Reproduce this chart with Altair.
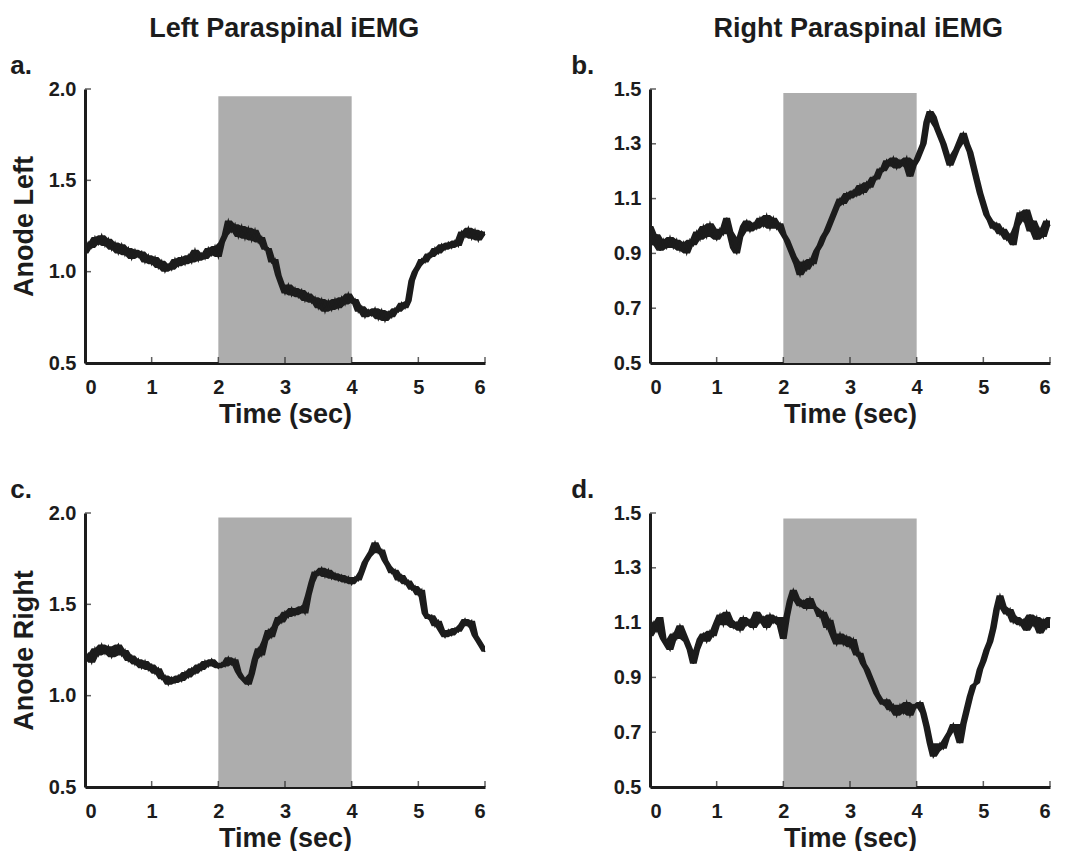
import altair as alt
import pandas as pd

# sampling interval of the traces (seconds)
TIME_STEP = 0.05

# Panel a: Anode Left / Left paraspinal iEMG (t = 0 .. 6 s)
A_VALUES = [
    1.10, 1.16, 1.13, 1.19, 1.15, 1.20, 1.14, 1.18, 1.12, 1.16,
    1.10, 1.15, 1.09, 1.13, 1.07, 1.12, 1.08, 1.11, 1.05, 1.09,
    1.04, 1.08, 1.02, 1.06, 1.00, 1.04, 1.01, 1.07, 1.03, 1.08,
    1.04, 1.09, 1.05, 1.12, 1.06, 1.10, 1.07, 1.13, 1.09, 1.14,
    1.08, 1.16, 1.20, 1.28, 1.22, 1.26, 1.19, 1.25, 1.18, 1.24,
    1.17, 1.23, 1.16, 1.19, 1.12, 1.13, 1.05, 1.07, 0.98, 0.93,
    0.88, 0.93, 0.87, 0.91, 0.86, 0.90, 0.84, 0.88, 0.83, 0.86,
    0.80, 0.85, 0.78, 0.84, 0.79, 0.85, 0.80, 0.86, 0.82, 0.88,
    0.83, 0.85, 0.78, 0.81, 0.75, 0.79, 0.76, 0.80, 0.74, 0.79,
    0.73, 0.78, 0.75, 0.80, 0.78, 0.83, 0.80, 0.84, 0.95, 1.00,
    1.03, 1.07, 1.05, 1.10, 1.08, 1.13, 1.10, 1.15, 1.12, 1.16,
    1.13, 1.17, 1.14, 1.22, 1.19, 1.24, 1.18, 1.23, 1.17, 1.22,
    1.20,
]

# Panel b: Anode Left / Right paraspinal iEMG
B_VALUES = [
    1.00, 0.93, 0.97, 0.91, 0.95, 0.92, 0.96, 0.92, 0.95, 0.91,
    0.94, 0.90, 0.95, 0.93, 0.98, 0.95, 1.00, 0.96, 1.01, 0.97,
    0.95, 0.99, 0.97, 1.03, 0.98, 0.92, 0.90, 0.96, 1.00, 1.02,
    0.98, 1.01, 0.99, 1.03, 1.00, 1.04, 0.99, 1.03, 0.99, 1.01,
    0.97, 0.95, 0.92, 0.89, 0.86, 0.82, 0.87, 0.84, 0.88, 0.86,
    0.91, 0.93, 0.96, 0.98, 1.01, 1.04, 1.07, 1.10, 1.08, 1.12,
    1.10, 1.13, 1.11, 1.15, 1.12, 1.16, 1.14, 1.18, 1.17, 1.21,
    1.20, 1.24, 1.22, 1.25, 1.21, 1.24, 1.22, 1.25, 1.18, 1.22,
    1.24, 1.27, 1.30, 1.38, 1.42, 1.40, 1.36, 1.33, 1.30, 1.26,
    1.22, 1.25, 1.28, 1.31, 1.34, 1.30, 1.27, 1.22, 1.17, 1.12,
    1.08, 1.04, 1.02, 0.99, 1.01, 0.97, 0.99, 0.95, 0.97, 0.93,
    1.00, 1.05, 1.02, 1.06, 0.98, 1.02, 0.95, 0.99, 0.96, 1.02,
    1.00,
]

# Panel c: Anode Right / Left paraspinal iEMG
C_VALUES = [
    1.20, 1.23, 1.18, 1.26, 1.22, 1.28, 1.23, 1.27, 1.21, 1.25,
    1.28, 1.22, 1.25, 1.19, 1.22, 1.17, 1.20, 1.15, 1.19, 1.14,
    1.17, 1.12, 1.15, 1.09, 1.11, 1.06, 1.10, 1.07, 1.11, 1.08,
    1.13, 1.10, 1.15, 1.12, 1.17, 1.14, 1.19, 1.16, 1.20, 1.17,
    1.15, 1.18, 1.16, 1.21, 1.17, 1.20, 1.13, 1.10, 1.08, 1.06,
    1.12, 1.20, 1.26, 1.22, 1.30, 1.36, 1.32, 1.38, 1.43, 1.40,
    1.46, 1.43, 1.48, 1.44, 1.47, 1.49, 1.45, 1.55, 1.62, 1.68,
    1.66, 1.70, 1.65, 1.69, 1.64, 1.67, 1.63, 1.66, 1.62, 1.65,
    1.61, 1.65, 1.63, 1.68, 1.73, 1.76, 1.79, 1.84, 1.78, 1.80,
    1.74, 1.71, 1.67, 1.69, 1.63, 1.66, 1.61, 1.63, 1.58, 1.60,
    1.55, 1.58, 1.45, 1.42, 1.44, 1.38, 1.41, 1.35, 1.32, 1.36,
    1.33, 1.37, 1.35, 1.39, 1.42, 1.38, 1.41, 1.33, 1.30, 1.27,
    1.24,
]

# Panel d: Anode Right / Right paraspinal iEMG
D_VALUES = [
    1.05, 1.10, 1.07, 1.12, 1.04, 1.02, 1.00, 1.06, 1.04, 1.09,
    1.06, 1.03, 1.00, 0.95, 1.00, 1.04, 1.06, 1.03, 1.07, 1.05,
    1.10, 1.13, 1.09, 1.14, 1.11, 1.08, 1.10, 1.07, 1.12, 1.09,
    1.11, 1.08, 1.14, 1.10, 1.12, 1.08, 1.13, 1.10, 1.12, 1.09,
    1.04, 1.12, 1.18, 1.22, 1.19, 1.16, 1.18, 1.15, 1.19, 1.16,
    1.15, 1.12, 1.14, 1.08, 1.11, 1.05, 1.02, 1.06, 1.02, 1.05,
    1.01, 1.04, 0.98, 0.99, 0.95, 0.93, 0.90, 0.87, 0.84, 0.82,
    0.80, 0.82, 0.78, 0.80, 0.76, 0.80, 0.77, 0.81, 0.76, 0.80,
    0.79, 0.81, 0.77, 0.72, 0.66, 0.61, 0.63, 0.66, 0.64, 0.68,
    0.70, 0.73, 0.70, 0.66, 0.73, 0.78, 0.83, 0.87, 0.88, 0.93,
    0.96, 1.00, 1.03, 1.08, 1.15, 1.20, 1.16, 1.13, 1.15, 1.10,
    1.12, 1.09, 1.11, 1.07, 1.13, 1.09, 1.12, 1.06, 1.11, 1.08,
    1.12,
]

X_TICKS = [0, 1, 2, 3, 4, 5, 6]
Y_TICKS_WIDE = [0.5, 1.0, 1.5, 2.0]
Y_TICKS_NARROW = [0.5, 0.7, 0.9, 1.1, 1.3, 1.5]
STIM_START = [2]
STIM_END = [4]
COLUMN_TITLES = ["Left Paraspinal iEMG", "Right Paraspinal iEMG"]
ROW_TITLES = ["Anode Left", "Anode Right"]
PANEL_LABELS = ["a.", "b.", "c.", "d."]

FONT = "Liberation Sans"
INK = "#1c1c1c"
PW, PH = 400, 274


def panel(vals, ydom, yticks, shade_top, ytitle, label, label_dx):
    df = pd.DataFrame({"t": [round(i * TIME_STEP, 2) for i in range(len(vals))], "v": vals})
    xs = alt.Scale(domain=[0, 6], nice=False, zero=False)
    ys = alt.Scale(domain=ydom, nice=False, zero=False)
    xaxis = alt.Axis(values=X_TICKS, format="d", title="Time (sec)", ticks=False, grid=False,
                     labelPadding=14, titlePadding=4)
    if ytitle:
        yaxis = alt.Axis(values=yticks, format=".1f", title=ytitle, ticks=False, grid=False,
                         labelPadding=9, titlePadding=10)
    else:
        yaxis = alt.Axis(values=yticks, format=".1f", title=None, ticks=False, grid=False,
                         labelPadding=9)

    shade_df = pd.DataFrame({"x": STIM_START, "x2": STIM_END, "y": [ydom[0]], "y2": [shade_top]})
    shade = alt.Chart(shade_df).mark_rect(color="#adadad").encode(
        x=alt.X("x:Q", scale=xs, axis=xaxis), x2="x2:Q",
        y=alt.Y("y:Q", scale=ys, axis=yaxis), y2="y2:Q")

    band = alt.Chart(df).transform_window(
        hi="max(v)", lo="min(v)", frame=[-1, 1]
    ).mark_area(color=INK, opacity=1).encode(
        x=alt.X("t:Q", scale=xs, axis=xaxis),
        y=alt.Y("hi:Q", scale=ys, axis=yaxis), y2="lo:Q")

    line = alt.Chart(df).mark_line(color=INK, strokeWidth=1.6, strokeJoin="miter").encode(
        x=alt.X("t:Q", scale=xs, axis=xaxis),
        y=alt.Y("v:Q", scale=ys, axis=yaxis))

    xt = alt.Chart(pd.DataFrame({"x": X_TICKS, "y": [ydom[0]] * len(X_TICKS)})).mark_tick(
        orient="vertical", size=6, thickness=1.5, yOffset=-3, color=INK).encode(
        x=alt.X("x:Q", scale=xs, axis=xaxis), y=alt.Y("y:Q", scale=ys, axis=yaxis))

    yt = alt.Chart(pd.DataFrame({"x": [0] * len(yticks), "y": yticks})).mark_tick(
        orient="horizontal", size=6, thickness=1.5, xOffset=3, color=INK).encode(
        x=alt.X("x:Q", scale=xs, axis=xaxis), y=alt.Y("y:Q", scale=ys, axis=yaxis))

    return alt.layer(shade, band, line, xt, yt).properties(
        width=PW, height=PH,
        title=alt.TitleParams(label, anchor="start", fontSize=26, font=FONT, fontWeight="bold",
                              dx=label_dx, offset=0, color=INK))


a = panel(A_VALUES, [0.5, 2.0], Y_TICKS_WIDE, 1.96, ROW_TITLES[0], PANEL_LABELS[0], 0)
b = panel(B_VALUES, [0.5, 1.5], Y_TICKS_NARROW, 1.485, None, PANEL_LABELS[1], -42)
c = panel(C_VALUES, [0.5, 2.0], Y_TICKS_WIDE, 1.975, ROW_TITLES[1], PANEL_LABELS[2], 0)
d = panel(D_VALUES, [0.5, 1.5], Y_TICKS_NARROW, 1.48, None, PANEL_LABELS[3], -42)

left = alt.vconcat(a, c, spacing=50).properties(
    title=alt.TitleParams(COLUMN_TITLES[0], anchor="middle", fontSize=27, font=FONT,
                          fontWeight="bold", dx=35, offset=10, color=INK))
right = alt.vconcat(b, d, spacing=50).properties(
    title=alt.TitleParams(COLUMN_TITLES[1], anchor="middle", fontSize=27, font=FONT,
                          fontWeight="bold", dx=46, offset=10, color=INK))

chart = alt.hconcat(left, right, spacing=82).configure_view(stroke=None).configure_axis(
    labelFont=FONT, labelFontWeight="bold", labelFontSize=20, labelColor=INK,
    titleFont=FONT, titleFontWeight="bold", titleFontSize=27, titleColor=INK,
    domainColor=INK, domainWidth=3,
).properties(background="white", padding={"left": 2, "top": 7, "right": 0, "bottom": 0})

chart.save("out.html", embed_options={"renderer": "svg", "actions": False})
